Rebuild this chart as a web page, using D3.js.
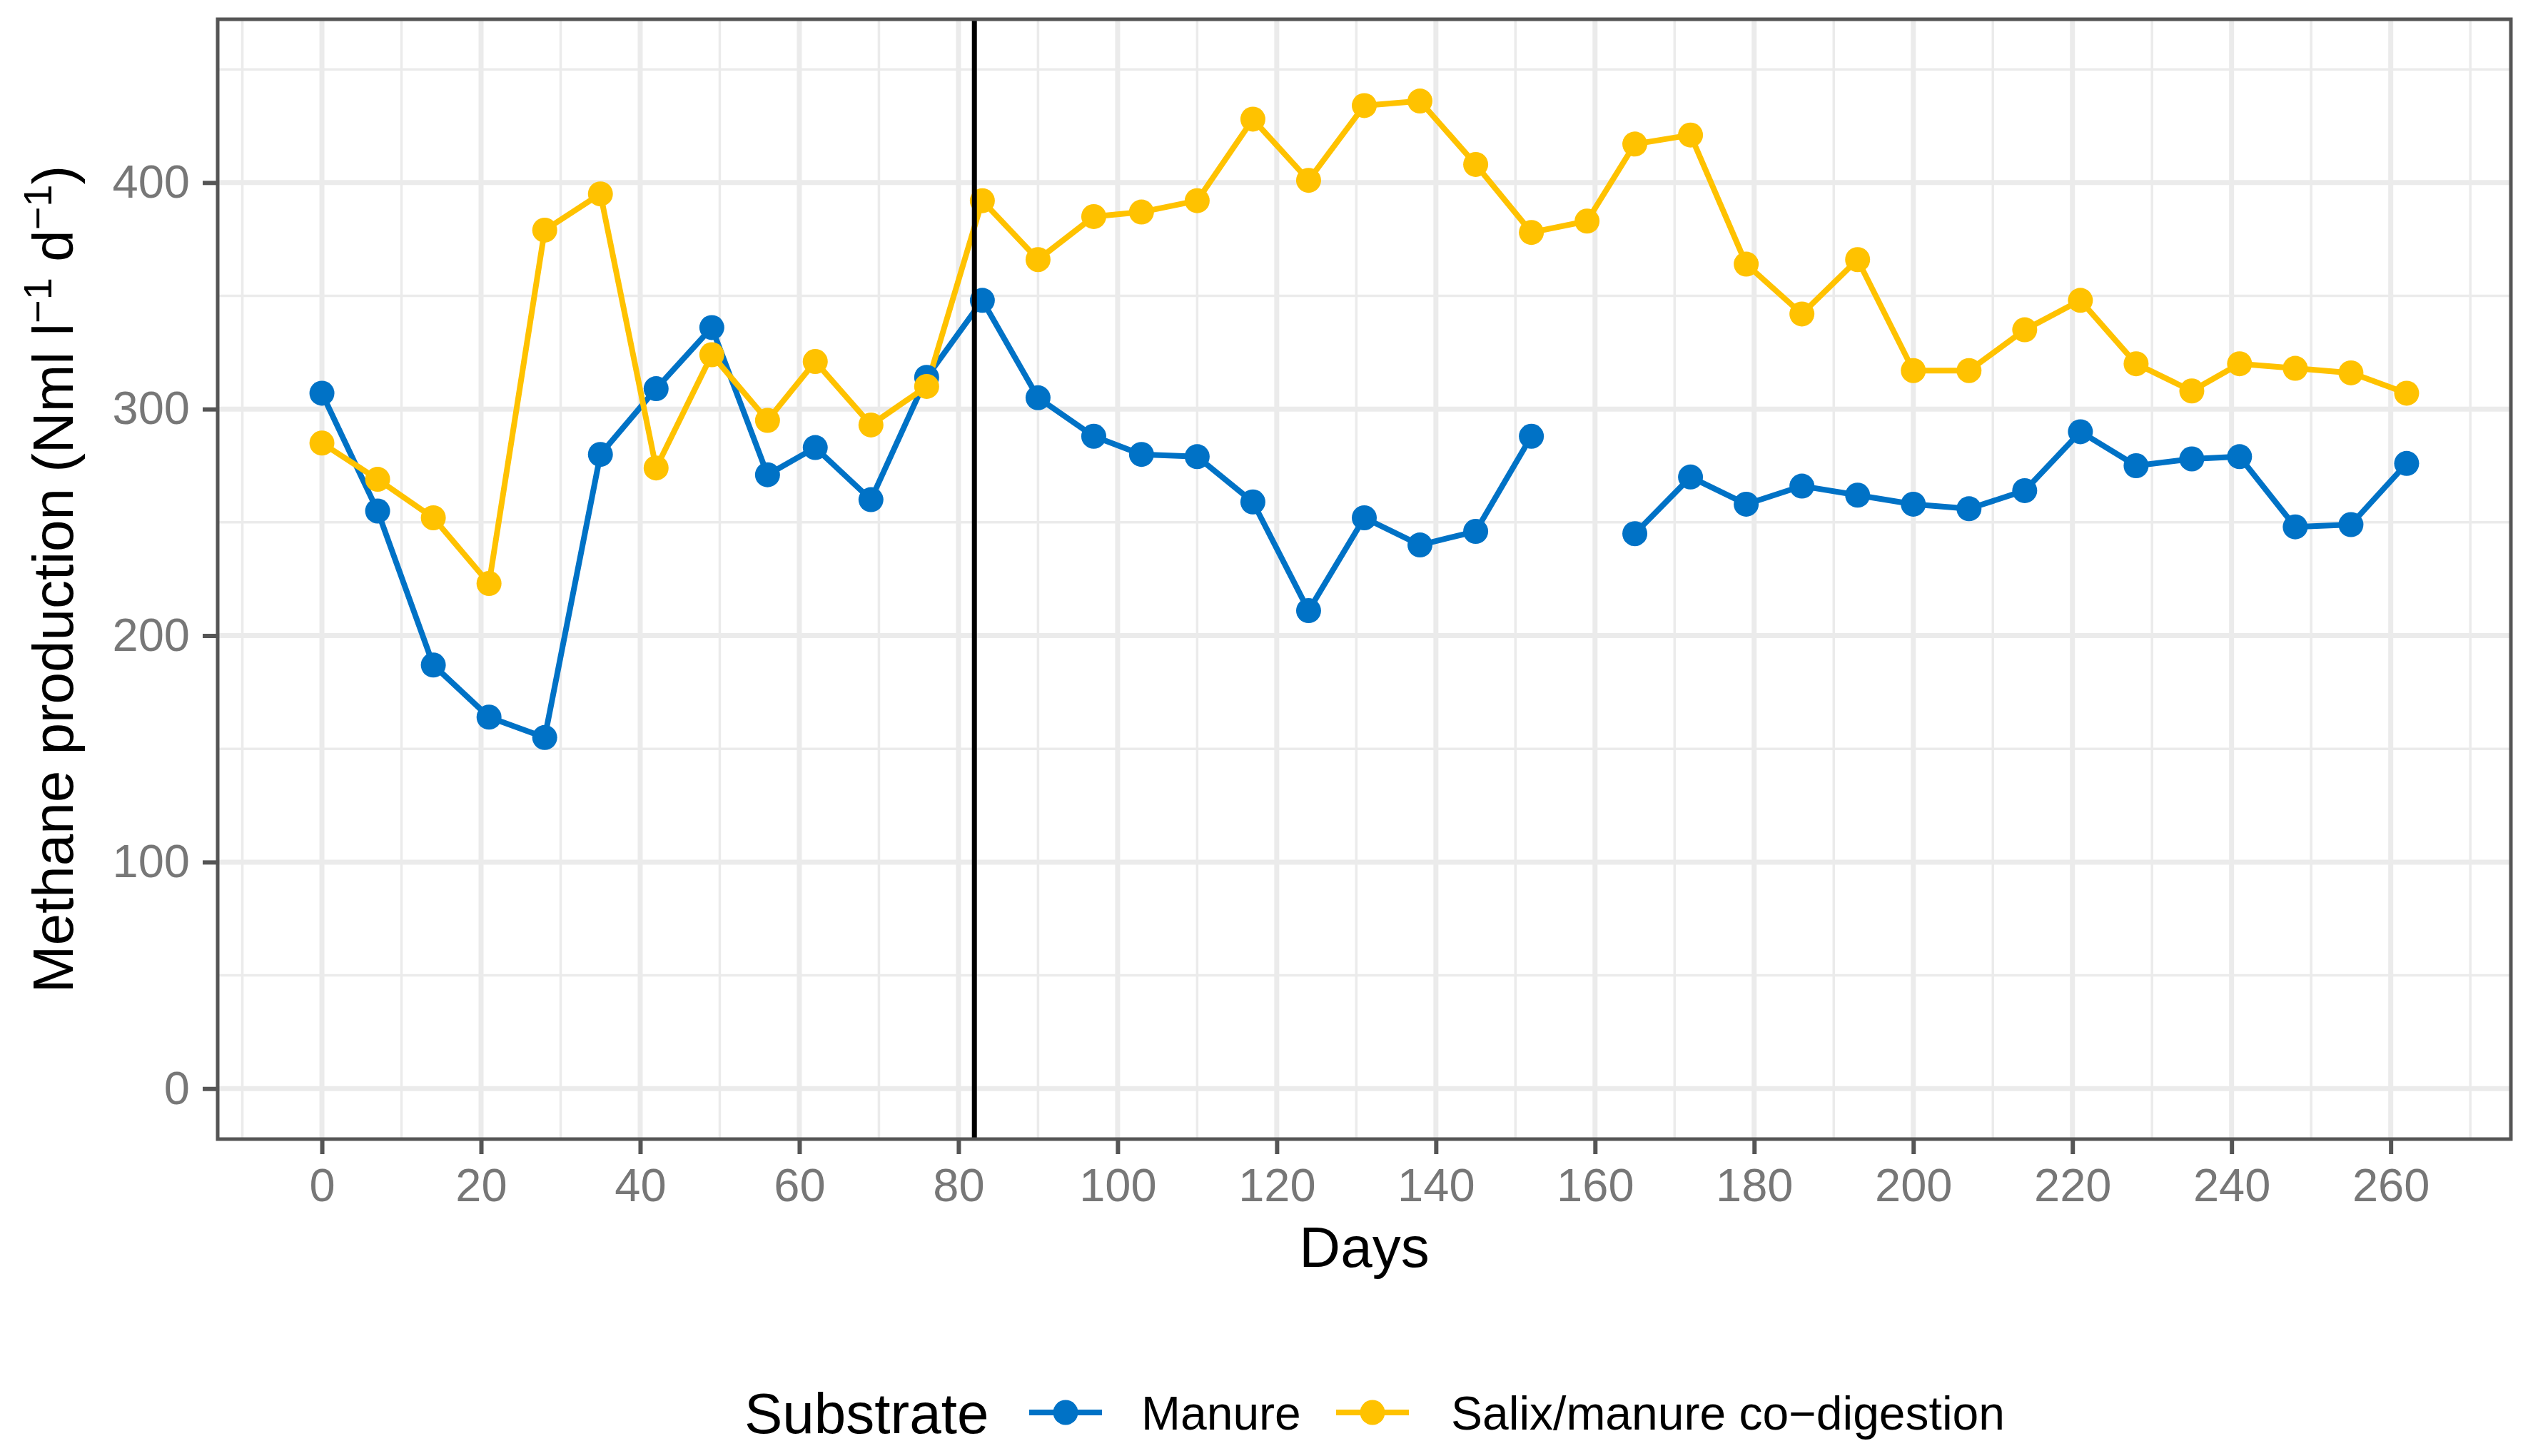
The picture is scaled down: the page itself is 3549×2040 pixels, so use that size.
<!DOCTYPE html>
<html>
<head>
<meta charset="utf-8">
<script src="https://cdn.jsdelivr.net/npm/d3@7"></script>
<style>
  html, body { margin: 0; padding: 0; background: #fff; }
  svg { display: block; }
  text { font-family: "Liberation Sans", Arial, Helvetica, sans-serif; }
</style>
</head>
<body>
<script>
// ---- data ----
const days = [0,7,14,21,28,35,42,49,56,62,69,76,83,90,97,103,110,117,124,131,138,145,152,159,165,172,179,186,193,200,207,214,221,228,235,241,248,255,262];
const manure = [307,255,187,164,155,280,309,336,271,283,260,314,348,305,288,280,279,259,211,252,240,246,288,null,245,270,258,266,262,258,256,264,290,275,278,279,248,249,276];
const salix = [285,269,252,223,379,395,274,324,295,321,293,310,392,366,385,387,392,428,401,434,436,408,378,383,417,421,364,342,366,317,317,335,348,320,308,320,318,316,307];
const seriesNames = ["Manure", "Salix/manure co\u2212digestion"];
const seriesColors = ["#0072C6", "#FFC200"];
const xTicks = [0,20,40,60,80,100,120,140,160,180,200,220,240,260];
const yTicks = [0,100,200,300,400];
const xMinor = [-10,10,30,50,70,90,110,130,150,170,190,210,230,250,270];
const yMinor = [50,150,250,350,450];
const vlineDay = 82;

// ---- layout ----
const W = 3549, H = 2040;
const P = { left: 305, right: 3518, top: 27, bottom: 1596 };

const svg = d3.select("body").append("svg").attr("width", W).attr("height", H);
svg.append("rect").attr("width", W).attr("height", H).attr("fill", "#fff");

const x = d3.scaleLinear().domain([-13.1, 275.1]).range([P.left, P.right]);
const y = d3.scaleLinear().domain([-22.3, 472.1]).range([P.bottom, P.top]);

const grid = svg.append("g");
grid.selectAll(".xmin").data(xMinor).enter().append("line")
  .attr("x1", d => x(d)).attr("x2", d => x(d)).attr("y1", P.top).attr("y2", P.bottom)
  .attr("stroke", "#EBEBEB").attr("stroke-width", 3.5);
grid.selectAll(".ymin").data(yMinor).enter().append("line")
  .attr("y1", d => y(d)).attr("y2", d => y(d)).attr("x1", P.left).attr("x2", P.right)
  .attr("stroke", "#EBEBEB").attr("stroke-width", 3.5);
grid.selectAll(".xmaj").data(xTicks).enter().append("line")
  .attr("x1", d => x(d)).attr("x2", d => x(d)).attr("y1", P.top).attr("y2", P.bottom)
  .attr("stroke", "#EBEBEB").attr("stroke-width", 7);
grid.selectAll(".ymaj").data(yTicks).enter().append("line")
  .attr("y1", d => y(d)).attr("y2", d => y(d)).attr("x1", P.left).attr("x2", P.right)
  .attr("stroke", "#EBEBEB").attr("stroke-width", 7);

// ---- series ----
const series = [manure, salix].map((vals, i) => ({
  name: seriesNames[i], color: seriesColors[i],
  pts: days.map((d, j) => ({ d, v: vals[j] }))
}));

const line = d3.line().defined(p => p.v != null).x(p => x(p.d)).y(p => y(p.v));
const plot = svg.append("g");
series.forEach(s => {
  plot.append("path").attr("d", line(s.pts)).attr("fill", "none")
    .attr("stroke", s.color).attr("stroke-width", 8).attr("stroke-linejoin", "round");
});
series.forEach(s => {
  plot.selectAll(null).data(s.pts.filter(p => p.v != null)).enter().append("circle")
    .attr("cx", p => x(p.d)).attr("cy", p => y(p.v)).attr("r", 17.5).attr("fill", s.color);
});

// vertical line
svg.append("line").attr("x1", x(vlineDay)).attr("x2", x(vlineDay))
  .attr("y1", P.top).attr("y2", P.bottom).attr("stroke", "#000").attr("stroke-width", 7);

// panel border
svg.append("rect").attr("x", P.left).attr("y", P.top)
  .attr("width", P.right - P.left).attr("height", P.bottom - P.top)
  .attr("fill", "none").attr("stroke", "#555").attr("stroke-width", 5);

// axes
const xAxis = d3.axisBottom(x).tickValues(xTicks).tickSize(21).tickPadding(20).tickFormat(d3.format("d"));
const gx = svg.append("g").attr("transform", `translate(0,${P.bottom})`).call(xAxis);
gx.select(".domain").remove();
gx.selectAll(".tick line").attr("stroke", "#555").attr("stroke-width", 6);
gx.selectAll(".tick text").attr("fill", "#777").attr("font-size", 65)
  .attr("font-family", "Liberation Sans, Arial, sans-serif");

const yAxis = d3.axisLeft(y).tickValues(yTicks).tickSize(21).tickPadding(18).tickFormat(d3.format("d"));
const gy = svg.append("g").attr("transform", `translate(${P.left},0)`).call(yAxis);
gy.select(".domain").remove();
gy.selectAll(".tick line").attr("stroke", "#555").attr("stroke-width", 6);
gy.selectAll(".tick text").attr("fill", "#777").attr("font-size", 65)
  .attr("font-family", "Liberation Sans, Arial, sans-serif");

// axis titles
svg.append("text").attr("x", (P.left + P.right) / 2).attr("y", 1775)
  .attr("text-anchor", "middle").attr("font-size", 80).attr("fill", "#000").text("Days");

const yt = svg.append("text").attr("transform", `translate(102,${(P.top + P.bottom) / 2}) rotate(-90)`)
  .attr("text-anchor", "middle").attr("font-size", 80).attr("fill", "#000");
yt.append("tspan").text("Methane production (Nml l");
yt.append("tspan").attr("dy", -30).attr("font-size", 56).text("\u22121");
yt.append("tspan").attr("dy", 30).text(" d");
yt.append("tspan").attr("dy", -30).attr("font-size", 56).text("\u22121");
yt.append("tspan").attr("dy", 30).text(")");

// legend
const lg = svg.append("g");
const ly = 1979;
lg.append("text").attr("x", 1043).attr("y", ly).attr("dy", "0.36em")
  .attr("font-size", 80).attr("fill", "#000").text("Substrate");
const keyX = [1442, 1872];
const labX = [1599, 2033];
series.forEach((s, i) => {
  lg.append("line").attr("x1", keyX[i]).attr("x2", keyX[i] + 102).attr("y1", ly).attr("y2", ly)
    .attr("stroke", s.color).attr("stroke-width", 8);
  lg.append("circle").attr("cx", keyX[i] + 51).attr("cy", ly).attr("r", 17.5).attr("fill", s.color);
  lg.append("text").attr("x", labX[i]).attr("y", ly).attr("dy", "0.36em")
    .attr("font-size", 66).attr("fill", "#000").text(s.name);
});
</script>
</body>
</html>
